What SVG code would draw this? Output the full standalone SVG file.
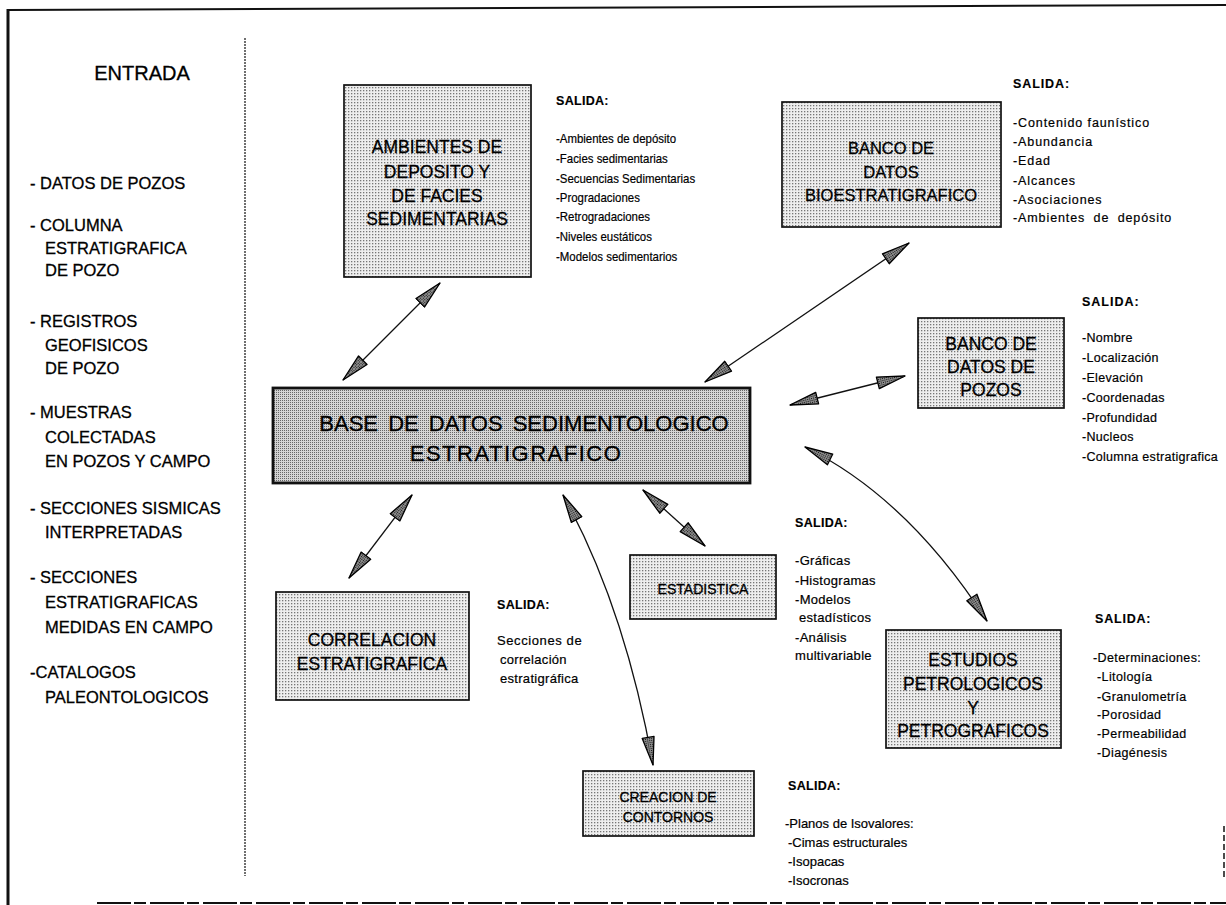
<svg xmlns="http://www.w3.org/2000/svg" width="1226" height="905" viewBox="0 0 1226 905">
  <defs>
    <!-- halftone screens used as box fills -->
    <pattern id="screenLight" width="3" height="3" patternUnits="userSpaceOnUse">
      <rect width="3" height="3" fill="#eeeeee"/>
      <rect width="1.3" height="1.3" fill="#767676"/>
    </pattern>
    <pattern id="screenDark" width="2" height="2" patternUnits="userSpaceOnUse">
      <rect width="2" height="2" fill="#d4d4d4"/>
      <rect width="1" height="1" fill="#666"/>
    </pattern>
    <pattern id="screenHead" width="2" height="2" patternUnits="userSpaceOnUse">
      <rect width="2" height="2" fill="#8c8c8c"/>
      <rect width="1" height="1" fill="#111"/>
    </pattern>
    <marker id="head" viewBox="0 0 30 15" refX="29" refY="7.5" markerWidth="30" markerHeight="15" markerUnits="userSpaceOnUse" orient="auto-start-reverse">
      <path d="M1,1.5 L29,7.5 L1,13.5 Z" fill="url(#screenHead)" stroke="#000" stroke-width="1.3" stroke-linejoin="round"/>
    </marker>
    <style>
      text { font-family: "Liberation Sans", Arial, sans-serif; fill: #000; stroke: #000; stroke-width: 0.3px; }
      .in { font-size: 16.5px; }
      .node { font-size: 17.5px; text-anchor: middle; }
      .sal { font-size: 12.5px; font-weight: bold; stroke-width: 0.15px; letter-spacing: 0.3px; }
      .out { font-size: 12.5px; stroke-width: 0.2px; }
      .narrow { font-size: 13px; }
      .box { stroke: #111; stroke-width: 1.7; fill: url(#screenLight); }
      .conn { fill: none; stroke: #111; stroke-width: 1.3; marker-start: url(#head); marker-end: url(#head); }
    </style>
  </defs>

  <rect width="1226" height="905" fill="#fff"/>

  <!-- page frame and column divider -->
  <g id="frame" stroke="#111" fill="none">
    <line x1="9" y1="10" x2="1226" y2="5" stroke-width="2"/>
    <line x1="8" y1="9" x2="8" y2="905" stroke-width="3"/>
    <line x1="97" y1="903" x2="1226" y2="903" stroke-width="2" stroke-dasharray="34 3 12 4"/>
    <line x1="1224" y1="826" x2="1224" y2="880" stroke-width="1.5" stroke-dasharray="6 3"/>
    <line x1="245" y1="38" x2="245" y2="876" stroke-width="1.2" stroke-dasharray="2 1"/>
  </g>

  <!-- input column -->
  <g id="entrada">
    <text x="142" y="80" font-size="20" text-anchor="middle" stroke-width="0.45">ENTRADA</text>
    <text class="in" x="30" y="189">- DATOS DE POZOS</text>
    <text class="in" x="30" y="231">- COLUMNA</text>
    <text class="in" x="45" y="254">ESTRATIGRAFICA</text>
    <text class="in" x="45" y="276">DE POZO</text>
    <text class="in" x="30" y="327">- REGISTROS</text>
    <text class="in" x="45" y="351">GEOFISICOS</text>
    <text class="in" x="45" y="374">DE POZO</text>
    <text class="in" x="30" y="418">- MUESTRAS</text>
    <text class="in" x="45" y="443">COLECTADAS</text>
    <text class="in" x="45" y="467">EN POZOS Y CAMPO</text>
    <text class="in" x="30" y="514">- SECCIONES SISMICAS</text>
    <text class="in" x="45" y="538">INTERPRETADAS</text>
    <text class="in" x="30" y="583">- SECCIONES</text>
    <text class="in" x="45" y="608">ESTRATIGRAFICAS</text>
    <text class="in" x="45" y="633">MEDIDAS EN CAMPO</text>
    <text class="in" x="30" y="678">-CATALOGOS</text>
    <text class="in" x="45" y="703">PALEONTOLOGICOS</text>
  </g>

  <!-- connectors -->
  <g id="connectors">
    <path class="conn" d="M343,380 L440,283"/>
    <path class="conn" d="M705,382 L909,243"/>
    <path class="conn" d="M790,405 L905,376"/>
    <path class="conn" d="M412,495 L349,578"/>
    <path class="conn" d="M643,490 L705,546"/>
    <path class="conn" d="M805,447 Q908,498 987,621"/>
    <path class="conn" d="M563,495 Q625,607 653,765"/>
  </g>

  <!-- central database -->
  <g id="base-datos">
    <rect x="273" y="388" width="477" height="95" fill="url(#screenDark)" stroke="#111" stroke-width="2.8"/>
    <text x="524" y="431" font-size="22" text-anchor="middle" word-spacing="4" stroke-width="0.5">BASE DE DATOS SEDIMENTOLOGICO</text>
    <text x="516" y="461" font-size="22" text-anchor="middle" letter-spacing="1.5" stroke-width="0.5">ESTRATIGRAFICO</text>
  </g>

  <g id="ambientes">
    <rect class="box" x="344" y="85" width="187" height="192"/>
    <text class="node" x="437" y="153">AMBIENTES DE</text>
    <text class="node" x="437" y="178">DEPOSITO Y</text>
    <text class="node" x="437" y="202">DE FACIES</text>
    <text class="node" x="437" y="225">SEDIMENTARIAS</text>
    <text class="sal" x="556" y="105">SALIDA:</text>
    <!-- condensed output list -->
    <g transform="translate(556,0) scale(0.88,1)">
      <text class="out narrow" x="0" y="143">-Ambientes de depósito</text>
      <text class="out narrow" x="0" y="163">-Facies sedimentarias</text>
      <text class="out narrow" x="0" y="183">-Secuencias Sedimentarias</text>
      <text class="out narrow" x="0" y="202">-Progradaciones</text>
      <text class="out narrow" x="0" y="221">-Retrogradaciones</text>
      <text class="out narrow" x="0" y="241">-Niveles eustáticos</text>
      <text class="out narrow" x="0" y="261">-Modelos sedimentarios</text>
    </g>
  </g>

  <g id="bioestratigrafico">
    <rect class="box" x="782" y="102" width="219" height="125"/>
    <text class="node" x="891" y="154" style="font-size:16.5px">BANCO DE</text>
    <text class="node" x="891" y="178" style="font-size:16.5px">DATOS</text>
    <text class="node" x="891" y="201" style="font-size:16.5px">BIOESTRATIGRAFICO</text>
    <text class="sal" x="1013" y="88" style="letter-spacing:0.9px">SALIDA:</text>
    <text class="out" x="1013" y="127" letter-spacing="0.9">-Contenido faunístico</text>
    <text class="out" x="1013" y="146" letter-spacing="0.9">-Abundancia</text>
    <text class="out" x="1013" y="165" letter-spacing="0.9">-Edad</text>
    <text class="out" x="1013" y="185" letter-spacing="0.9">-Alcances</text>
    <text class="out" x="1013" y="204" letter-spacing="0.9">-Asociaciones</text>
    <text class="out" x="1013" y="222" letter-spacing="0.9" word-spacing="4">-Ambientes de depósito</text>
  </g>

  <g id="pozos">
    <rect class="box" x="918" y="318" width="146" height="90"/>
    <text class="node" x="991" y="350">BANCO DE</text>
    <text class="node" x="991" y="373">DATOS DE</text>
    <text class="node" x="991" y="396">POZOS</text>
    <text class="sal" x="1082" y="306" style="letter-spacing:1px">SALIDA:</text>
    <text class="out" x="1082" y="342" letter-spacing="0.3">-Nombre</text>
    <text class="out" x="1082" y="362" letter-spacing="0.3">-Localización</text>
    <text class="out" x="1082" y="382" letter-spacing="0.3">-Elevación</text>
    <text class="out" x="1082" y="402" letter-spacing="0.3">-Coordenadas</text>
    <text class="out" x="1082" y="422" letter-spacing="0.3">-Profundidad</text>
    <text class="out" x="1082" y="441" letter-spacing="0.3">-Nucleos</text>
    <text class="out" x="1082" y="461" letter-spacing="0.3">-Columna estratigrafica</text>
  </g>

  <g id="correlacion">
    <rect class="box" x="276" y="592" width="193" height="108"/>
    <text class="node" x="372" y="646">CORRELACION</text>
    <text class="node" x="372" y="670">ESTRATIGRAFICA</text>
    <text class="sal" x="497" y="609">SALIDA:</text>
    <text class="out" x="497" y="645" letter-spacing="0.6" style="font-size:13px">Secciones de</text>
    <text class="out" x="500" y="664" letter-spacing="0.3" style="font-size:13px">correlación</text>
    <text class="out" x="500" y="683" letter-spacing="0.3" style="font-size:13px">estratigráfica</text>
  </g>

  <g id="estadistica">
    <rect class="box" x="630" y="555" width="146" height="64"/>
    <text class="node" x="703" y="594" style="font-size:14px">ESTADISTICA</text>
    <text class="sal" x="795" y="527">SALIDA:</text>
    <text class="out" x="795" y="565" letter-spacing="0.3" style="font-size:13px">-Gráficas</text>
    <text class="out" x="795" y="585" letter-spacing="0.3" style="font-size:13px">-Histogramas</text>
    <text class="out" x="795" y="604" letter-spacing="0.3" style="font-size:13px">-Modelos</text>
    <text class="out" x="799" y="622" letter-spacing="0.3" style="font-size:13px">estadísticos</text>
    <text class="out" x="795" y="642" letter-spacing="0.3" style="font-size:13px">-Análisis</text>
    <text class="out" x="795" y="660" letter-spacing="0.3" style="font-size:13px">multivariable</text>
  </g>

  <g id="petrologicos">
    <rect class="box" x="886" y="630" width="175" height="118"/>
    <text class="node" x="973" y="666">ESTUDIOS</text>
    <text class="node" x="973" y="690">PETROLOGICOS</text>
    <text class="node" x="973" y="714">Y</text>
    <text class="node" x="973" y="737">PETROGRAFICOS</text>
    <text class="sal" x="1095" y="623" style="letter-spacing:0.8px">SALIDA:</text>
    <text class="out" x="1093" y="662" letter-spacing="0.4">-Determinaciones:</text>
    <text class="out" x="1097" y="681" letter-spacing="0.4">-Litología</text>
    <text class="out" x="1097" y="701" letter-spacing="0.4">-Granulometría</text>
    <text class="out" x="1097" y="719" letter-spacing="0.4">-Porosidad</text>
    <text class="out" x="1097" y="738" letter-spacing="0.4">-Permeabilidad</text>
    <text class="out" x="1097" y="757" letter-spacing="0.4">-Diagénesis</text>
  </g>

  <g id="contornos">
    <rect class="box" x="583" y="771" width="171" height="65"/>
    <text class="node" x="668" y="802" style="font-size:14px">CREACION DE</text>
    <text class="node" x="668" y="822" style="font-size:14px">CONTORNOS</text>
    <text class="sal" x="788" y="790">SALIDA:</text>
    <text class="out" x="785" y="828" style="font-size:13px">-Planos de Isovalores:</text>
    <text class="out" x="788" y="847" style="font-size:13px">-Cimas estructurales</text>
    <text class="out" x="788" y="866" style="font-size:13px">-Isopacas</text>
    <text class="out" x="788" y="885" style="font-size:13px">-Isocronas</text>
  </g>
</svg>
